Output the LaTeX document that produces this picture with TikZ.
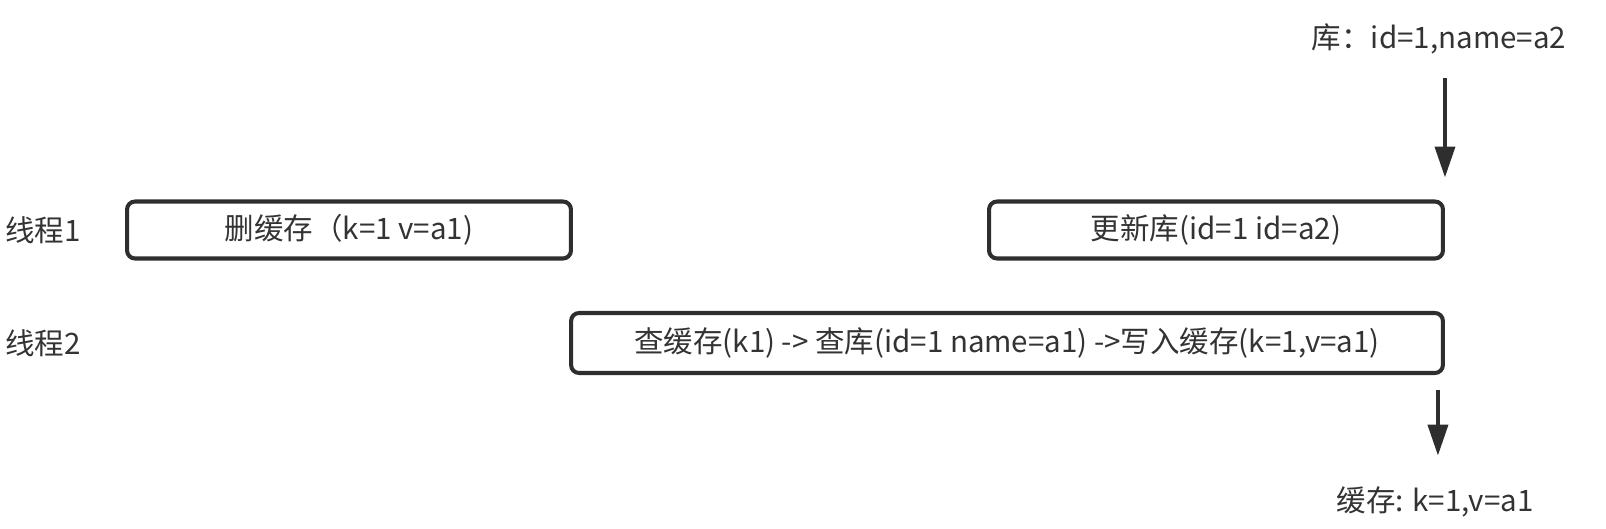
\documentclass[tikz,border=0pt]{standalone}
\usepackage{fontspec}
\setmainfont{Noto Sans CJK SC}
\usetikzlibrary{arrows.meta}

\definecolor{inkgray}{HTML}{2E2E2E}
\definecolor{textgray}{HTML}{333333}

\tikzset{
  lane/.style={draw=inkgray, line width=2.3pt, rounded corners=0.16cm,
    minimum height=1.14cm, text=textgray, font=\fontsize{16.8}{20}\selectfont},
  tag/.style={text=textgray, font=\fontsize{16.8}{20}\selectfont},
  flow/.style={draw=inkgray, line width=2.2pt, -{Triangle[length=0.62cm,width=0.4cm]}}
}

\begin{document}
\begin{tikzpicture}[x=0.02cm,y=-0.02cm]
  \useasboundingbox (0,0) rectangle (1606,528);
  %% thread names
  \node[tag] (t1) at (43,230) {线程1};
  \node[tag] (t2) at (43,343) {线程2};
  %% thread 1
  \node[lane, minimum width=8.88cm] (del) at (349,230) {删缓存（k=1 v=a1)};
  \node[lane, minimum width=9.08cm] (upd) at (1216,230) {更新库(id=1 id=a2)};
  %% thread 2
  \node[lane, minimum width=17.44cm, minimum height=1.2cm] (wr) at (1007,343)
       {查缓存(k1) -> 查库(id=1 name=a1) ->写入缓存(k=1,v=a1)};
  %% final state
  \node[tag] (db) at (1439,39) {库：id=1,name=a2};
  \node[tag] (cache) at (1435,502) {缓存: k=1,v=a1};
  \coordinate (wrout) at ([xshift=-0.14cm]wr.south east);
  \draw[flow, shorten <=0.36cm, shorten >=0.44cm] (db.south -| upd.north east) -- (upd.north east);
  \draw[flow, shorten <=0.3cm, shorten >=0.5cm] (wrout) -- (cache.north -| wrout);
  %\draw[red] (0,230)--(1606,230); %guide line
\end{tikzpicture}
\end{document}
